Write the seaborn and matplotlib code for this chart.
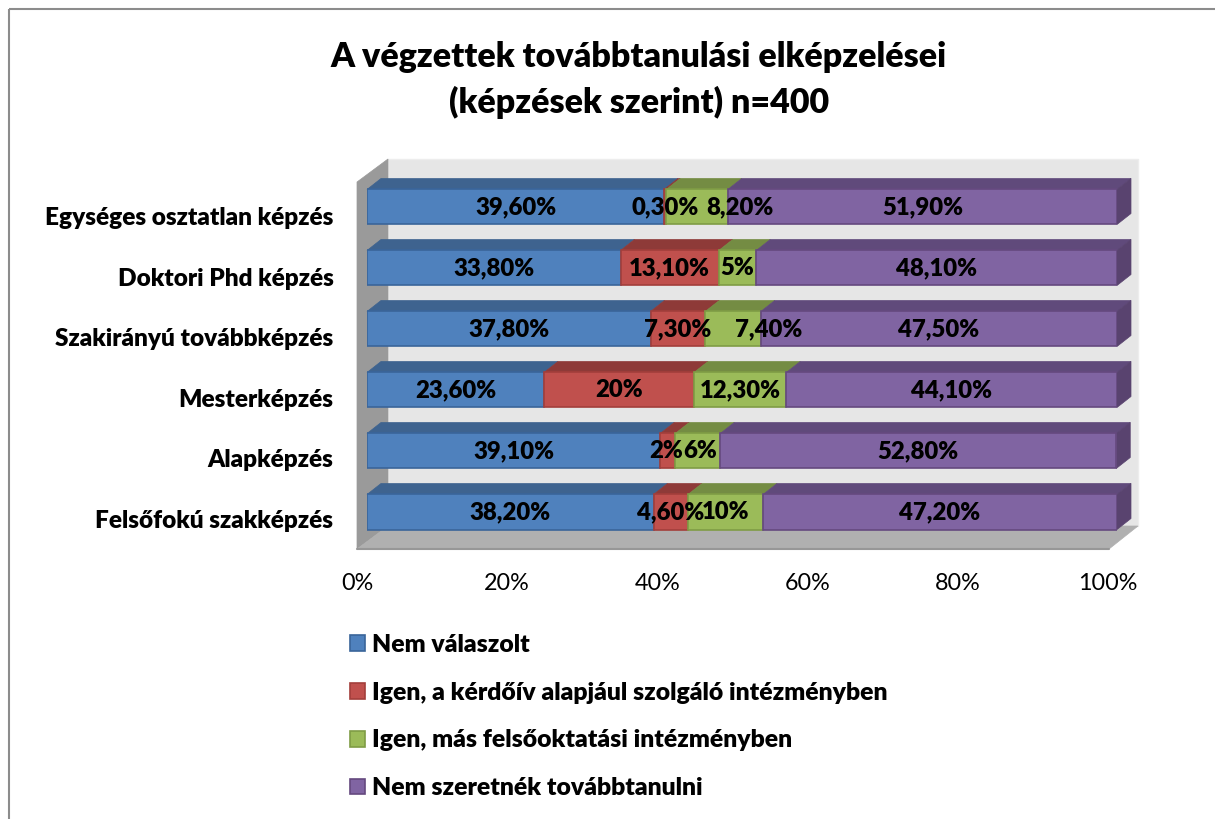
import matplotlib
matplotlib.use("Agg")
import matplotlib.pyplot as plt
from matplotlib.patches import Polygon
import numpy as np
import pandas as pd
import seaborn as sns

categories = ["Egységes osztatlan képzés", "Doktori Phd képzés", "Szakirányú továbbképzés",
              "Mesterképzés", "Alapképzés", "Felsőfokú szakképzés"]
series_names = ["Nem válaszolt", "Igen, a kérdőív alapjául szolgáló intézményben",
                "Igen, más felsőoktatási intézményben", "Nem szeretnék továbbtanulni"]
nem_valaszolt = [39.6, 33.8, 37.8, 23.6, 39.1, 38.2]
igen_itt = [0.3, 13.1, 7.3, 20.0, 2.0, 4.6]
igen_mas = [8.2, 5.0, 7.4, 12.3, 6.0, 10.0]
nem_szeretne = [51.9, 48.1, 47.5, 44.1, 52.8, 47.2]
labels_a = ["39,60%", "33,80%", "37,80%", "23,60%", "39,10%", "38,20%"]
labels_b = ["0,30%", "13,10%", "7,30%", "20%", "2%", "4,60%"]
labels_c = ["8,20%", "5%", "7,40%", "12,30%", "6%", "10%"]
labels_d = ["51,90%", "48,10%", "47,50%", "44,10%", "52,80%", "47,20%"]
ticks = [0, 20, 40, 60, 80, 100]
tick_labels = ["0%", "20%", "40%", "60%", "80%", "100%"]
title = "A végzettek továbbtanulási elképzelései\n(képzések szerint) n=400"

face = ["#4F81BD", "#C0504D", "#9BBB59", "#8064A2"]
edge = ["#3A659A", "#A33E3B", "#7F9C45", "#65497F"]
top = ["#3E638F", "#8E3A38", "#748C43", "#604A7B"]
side = ["#3E638F", "#8E3A38", "#748C43", "#59436F"]

W, H = 1215, 819
sns.set_theme(style="white")
plt.rcParams["font.family"] = ["Lato", "DejaVu Sans"]
fig = plt.figure(figsize=(W / 100, H / 100), dpi=100, facecolor="white")


def rect(x0, y0, x1, y1):
    return [x0 / W, 1 - y1 / H, (x1 - x0) / W, (y1 - y0) / H]


# Pixel-space layer for the chart furniture
bg = fig.add_axes([0, 0, 1, 1], zorder=0)
bg.set_xlim(0, W)
bg.set_ylim(H, 0)
bg.axis("off")
bg.plot([9, 9], [9, H], color="#8C8C8C", lw=1.5, solid_capstyle="butt")
bg.plot([9, W], [9, 9], color="#8C8C8C", lw=1.5, solid_capstyle="butt")
bg.add_patch(Polygon([(388, 159), (1138, 159), (1138, 526), (388, 526)], fc="#E6E6E6", ec="#EDEDED", lw=1))
bg.add_patch(Polygon([(357, 182), (388, 159), (388, 526), (357, 549)], fc="#9A9A9A", ec="#9A9A9A", lw=0.5))
bg.add_patch(Polygon([(357, 549), (388, 526), (1138, 526), (1109, 549)], fc="#B0B0B0", ec="#B0B0B0", lw=0.5))
bg.plot([357, 1109], [548.5, 548.5], color="#979797", lw=1.5)
bg.text(639, 80, title, ha="center", va="center", fontsize=24.5, fontweight=800,
        color="black", linespacing=1.45)

# Front plane of the box: carries the axis labels
frame = fig.add_axes(rect(357, 186, 1108, 549), zorder=1)
frame.patch.set_visible(False)
frame.set_xlim(0, 100)
frame.set_ylim(5.5, -0.5)
frame.set_xticks(ticks, tick_labels, fontsize=16.8, color="black")
frame.set_yticks(range(len(categories)), categories, fontsize=17.6, fontweight=800, color="black")
frame.tick_params(axis="x", length=0, pad=17)
frame.tick_params(axis="y", length=0, pad=17)
sns.despine(ax=frame, left=True, bottom=True)

# Bars
ax = fig.add_axes(rect(367, 176.5, 1117, 542.5), zorder=2)
ax.patch.set_visible(False)
df = pd.DataFrame({"cat": categories})
values = [nem_valaszolt, igen_itt, igen_mas, nem_szeretne]
texts = [labels_a, labels_b, labels_c, labels_d]
cum = np.zeros(len(categories))
dx, dy = 14 / 7.5, 11 / 61
bar_h = 35 / 61
for i, vals in enumerate(values):
    sns.barplot(data=df.assign(v=vals), y="cat", x="v", order=categories, orient="y", left=cum.copy(),
                color=face[i], saturation=1, width=bar_h, edgecolor=edge[i], linewidth=1.2,
                ax=ax, label=series_names[i], zorder=3, errorbar=None)
    for j, v in enumerate(vals):
        l, r = cum[j], cum[j] + v
        t = j - bar_h / 2
        ax.add_patch(Polygon([(l, t), (r, t), (r + dx, t - dy), (l + dx, t - dy)], fc=top[i], ec=top[i],
                             lw=0.5, zorder=2, clip_on=False))
        if i == len(values) - 1:
            b = j + bar_h / 2
            ax.add_patch(Polygon([(r, t), (r + dx, t - dy), (r + dx, b - dy), (r, b)], fc=side[i], ec=side[i],
                                 lw=0.5, zorder=2, clip_on=False))
    cum += np.array(vals)
annots = []
for i, cont in enumerate(ax.containers):
    annots.append(ax.bar_label(cont, labels=texts[i], label_type="center", fontsize=17.2, fontweight=800,
                               color="black", zorder=6))
# labels the reference moved out of their narrow neighbours' way
annots[2][0].xyann = (31, 0)
annots[2][2].xyann = (26, 0)
annots[1][4].xyann = (-1, 0)
annots[2][4].xyann = (1.5, 0)
ax.set_xlim(0, 100)
ax.set_ylim(5.5, -0.5)
ax.set_xlabel("")
ax.set_ylabel("")
ax.set_xticks([])
ax.set_yticks([])
sns.despine(ax=ax, left=True, bottom=True)

handles, leg_labels = ax.get_legend_handles_labels()
ax.legend(handles, leg_labels, loc="upper left", bbox_to_anchor=(350 / W, 1 - 634 / H),
          bbox_transform=fig.transFigure, frameon=False, ncol=1, handlelength=0.6, handleheight=0.6,
          handletextpad=0.3, labelspacing=1.04, borderpad=0, borderaxespad=0, labelcolor="black",
          prop={"size": 17.8, "weight": 800})

fig.savefig("out.png", dpi=100)
